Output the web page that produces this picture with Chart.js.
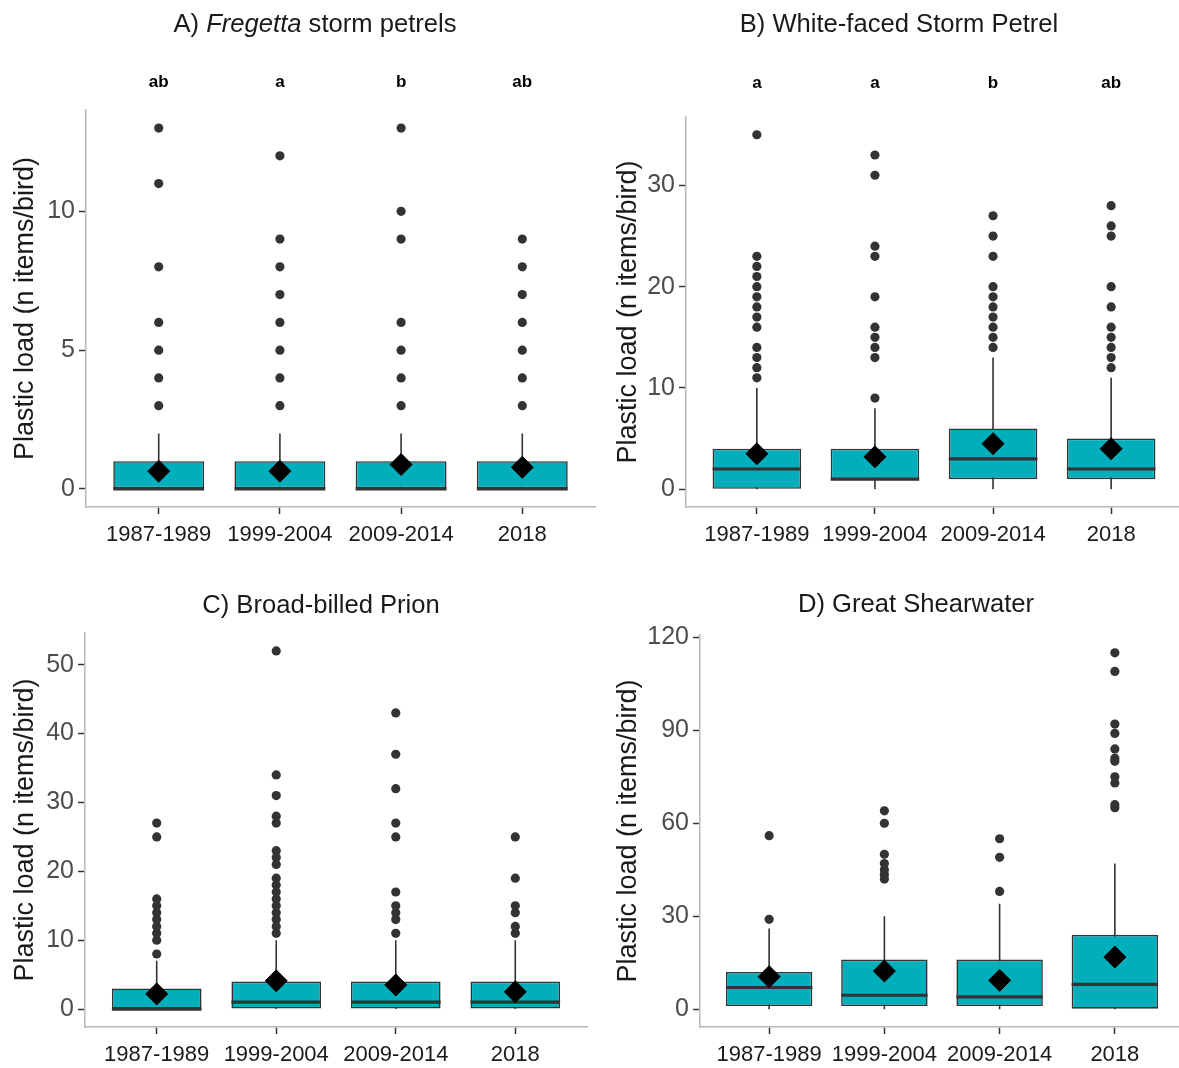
<!DOCTYPE html>
<html>
<head>
<meta charset="utf-8">
<script src="https://cdn.jsdelivr.net/npm/chart.js@4.4.1/dist/chart.umd.min.js"></script>
<style>
  body { margin: 0; background: #fff; overflow: hidden; }
  #fig { position: relative; width: 1179px; height: 1068px; overflow: hidden; }
  .panel { position: absolute; }
  .title {
    position: absolute; width: 600px; text-align: center;
    font: 25.6px "Liberation Sans", Arial, Helvetica, sans-serif;
    line-height: 30px; color: #1a1a1a; white-space: nowrap;
  }
</style>
</head>
<body>
<div id="fig">
  <div class="panel" style="left:0;top:0;width:600px;height:560px"><canvas id="chartA"></canvas></div>
  <div class="panel" style="left:600px;top:0;width:590px;height:560px"><canvas id="chartB"></canvas></div>
  <div class="panel" style="left:0;top:560px;width:600px;height:508px"><canvas id="chartC"></canvas></div>
  <div class="panel" style="left:600px;top:560px;width:590px;height:508px"><canvas id="chartD"></canvas></div>
  <div class="title" style="left:15px;top:8px">A) <i>Fregetta</i> storm petrels</div>
  <div class="title" style="left:599px;top:8px">B) White-faced Storm Petrel</div>
  <div class="title" style="left:21px;top:589px">C) Broad-billed Prion</div>
  <div class="title" style="left:616px;top:588px">D) Great Shearwater</div>
</div>
<script>
const periods = ["1987-1989", "1999-2004", "2009-2014", "2018"];

// A) Fregetta storm petrels
const fregettaLower = [0, 0, 0, 0];
const fregettaQ1 = [0, 0, 0, 0];
const fregettaMedian = [0, 0, 0, 0];
const fregettaQ3 = [1, 1, 1, 1];
const fregettaUpper = [2, 2, 2, 2];
const fregettaMean = [0.64, 0.64, 0.88, 0.78];
const fregettaOutliers = [
  [3, 4, 5, 6, 8, 11, 13],
  [3, 4, 5, 6, 7, 8, 9, 12],
  [3, 4, 5, 6, 9, 10, 13],
  [3, 4, 5, 6, 7, 8, 9]
];
const fregettaLetters = ["ab", "a", "b", "ab"];
const fregettaTicks = [0, 5, 10];

// B) White-faced Storm Petrel
const whiteFacedLower = [0, 0, 0, 0];
const whiteFacedQ1 = [0, 1, 1, 1];
const whiteFacedMedian = [2, 1, 3, 2];
const whiteFacedQ3 = [4, 4, 6, 5];
const whiteFacedUpper = [10, 8, 13, 11];
const whiteFacedMean = [3.5, 3.2, 4.5, 4.0];
const whiteFacedOutliers = [
  [11, 12, 13, 14, 16, 17, 18, 19, 20, 21, 22, 23, 35],
  [9, 13, 14, 15, 16, 19, 23, 24, 31, 33],
  [14, 15, 16, 17, 18, 19, 20, 23, 25, 27],
  [12, 13, 14, 15, 16, 18, 20, 25, 26, 28]
];
const whiteFacedLetters = ["a", "a", "b", "ab"];
const whiteFacedTicks = [0, 10, 20, 30];

// C) Broad-billed Prion
const prionLower = [0, 0, 0, 0];
const prionQ1 = [0, 0, 0, 0];
const prionMedian = [0, 1, 1, 1];
const prionQ3 = [3, 4, 4, 4];
const prionUpper = [7, 10, 10, 10];
const prionMean = [2.2, 4.1, 3.5, 2.5];
const prionOutliers = [
  [8, 10, 11, 12, 13, 14, 15, 16, 25, 27],
  [11, 12, 13, 14, 15, 16, 17, 18, 19, 21, 22, 23, 27, 28, 31, 34, 52],
  [11, 13, 14, 15, 17, 25, 27, 32, 37, 43],
  [11, 12, 14, 15, 19, 25]
];
const prionTicks = [0, 10, 20, 30, 40, 50];

// D) Great Shearwater
const shearwaterLower = [0, 0, 0, 0];
const shearwaterQ1 = [1, 1, 1, 0];
const shearwaterMedian = [7, 4.5, 4, 8];
const shearwaterQ3 = [12, 16, 16, 24];
const shearwaterUpper = [26, 30, 34, 47];
const shearwaterMean = [10.5, 12.3, 9.3, 16.8];
const shearwaterOutliers = [
  [29, 56],
  [42, 43.5, 45, 47, 50, 60, 64],
  [38, 49, 55],
  [65, 66, 73, 75, 80, 81, 84, 89, 92, 109, 115]
];
const shearwaterTicks = [0, 30, 60, 90, 120];

const FONT = '"Liberation Sans", Arial, Helvetica, sans-serif';
const BOX_FILL = "#00AFBB";
const DARK = "#333333";
const BOX_W = 0.75;

// draws the significance letters above each box
const lettersPlugin = {
  id: "sigLetters",
  afterDraw(chart, args, opts) {
    if (!opts.letters || !opts.letters.length) return;
    const { ctx, chartArea, scales } = chart;
    ctx.save();
    ctx.font = "bold 17px " + FONT;
    ctx.fillStyle = "#000";
    ctx.textAlign = "center";
    ctx.textBaseline = "middle";
    opts.letters.forEach((l, i) => {
      ctx.fillText(l, scales.x.getPixelForValue(i + 1), chartArea.top - opts.gap);
    });
    ctx.restore();
  }
};

function axisStyle() {
  return {
    grid: { display: true, drawOnChartArea: false, drawTicks: true, tickLength: 7, tickColor: DARK, tickWidth: 1.5, offset: false },
    border: { display: true, color: "#b8b8b8", width: 1.5 }
  };
}

function makePanel(id, p) {
  const xs = periods.map((_, i) => i + 1);
  let top = 0;
  p.outliers.forEach(o => o.forEach(v => { top = Math.max(top, v); }));
  p.upper.forEach(v => { top = Math.max(top, v); });
  const yMin = -0.05 * top;
  const yMax = top * 1.05;

  new Chart(document.getElementById(id), {
    type: "bar",
    data: {
      datasets: [
        {
          type: "line",
          order: 4,
          data: xs.flatMap((x, i) => [{ x, y: p.lower[i] }, { x, y: p.upper[i] }, { x, y: null }]),
          borderColor: DARK,
          borderWidth: 1.6,
          pointRadius: 0,
          spanGaps: false
        },
        {
          type: "bar",
          order: 3,
          data: xs.map((x, i) => ({ x, y: [p.q1[i], p.q3[i]] })),
          backgroundColor: BOX_FILL,
          borderColor: DARK,
          borderWidth: 1.6,
          borderSkipped: false,
          barPercentage: BOX_W,
          categoryPercentage: 1
        },
        {
          type: "line",
          order: 2,
          data: xs.flatMap((x, i) => [
            { x: x - BOX_W / 2, y: p.median[i] },
            { x: x + BOX_W / 2, y: p.median[i] },
            { x, y: null }
          ]),
          borderColor: DARK,
          borderWidth: 3.2,
          borderCapStyle: "butt",
          pointRadius: 0,
          spanGaps: false
        },
        {
          type: "scatter",
          order: 1,
          data: xs.flatMap((x, i) => p.outliers[i].map(v => ({ x, y: v }))),
          backgroundColor: DARK,
          borderWidth: 0,
          pointRadius: 4.6
        },
        {
          type: "scatter",
          order: 0,
          data: xs.map((x, i) => ({ x, y: p.mean[i] })),
          backgroundColor: "#000",
          borderColor: "#000",
          borderWidth: 1,
          pointStyle: "rectRot",
          pointRadius: 11
        }
      ]
    },
    options: {
      responsive: true,
      maintainAspectRatio: false,
      animation: false,
      events: [],
      layout: { autoPadding: false, padding: { top: p.padTop, right: p.padRight, left: 0, bottom: 0 } },
      plugins: {
        legend: { display: false },
        tooltip: { enabled: false },
        sigLetters: { letters: p.letters || [], gap: p.letterGap || 0 }
      },
      scales: {
        x: {
          type: "linear",
          min: 0.4,
          max: 4.6,
          offset: false,
          afterBuildTicks: s => { s.ticks = xs.map(v => ({ value: v })); },
          afterFit: s => { s.height = p.xHeight; },
          ...axisStyle(),
          ticks: {
            color: "#1a1a1a",
            font: { family: FONT, size: 22 },
            padding: 8,
            maxRotation: 0,
            autoSkip: false,
            callback: v => periods[v - 1]
          }
        },
        y: {
          type: "linear",
          min: yMin,
          max: yMax,
          afterBuildTicks: s => { s.ticks = p.ticks.map(v => ({ value: v })); },
          afterFit: s => { s.width = p.yWidth; },
          ...axisStyle(),
          ticks: { color: "#4d4d4d", font: { family: FONT, size: 25 }, padding: 4 },
          title: {
            display: true,
            text: "Plastic load (n items/bird)",
            color: "#1a1a1a",
            font: { family: FONT, size: 27 },
            padding: { top: p.titlePad, bottom: 0 }
          }
        }
      }
    },
    plugins: [lettersPlugin]
  });
}

makePanel("chartA", {
  lower: fregettaLower, q1: fregettaQ1, median: fregettaMedian, q3: fregettaQ3, upper: fregettaUpper,
  mean: fregettaMean, outliers: fregettaOutliers, letters: fregettaLetters, ticks: fregettaTicks,
  padTop: 110, padRight: 5, yWidth: 86, xHeight: 53, titlePad: 9, letterGap: 28
});
makePanel("chartB", {
  lower: whiteFacedLower, q1: whiteFacedQ1, median: whiteFacedMedian, q3: whiteFacedQ3, upper: whiteFacedUpper,
  mean: whiteFacedMean, outliers: whiteFacedOutliers, letters: whiteFacedLetters, ticks: whiteFacedTicks,
  padTop: 117, padRight: 8, yWidth: 86, xHeight: 53, titlePad: 12, letterGap: 34
});
makePanel("chartC", {
  lower: prionLower, q1: prionQ1, median: prionMedian, q3: prionQ3, upper: prionUpper,
  mean: prionMean, outliers: prionOutliers, ticks: prionTicks,
  padTop: 73, padRight: 13, yWidth: 85, xHeight: 41, titlePad: 9
});
makePanel("chartD", {
  lower: shearwaterLower, q1: shearwaterQ1, median: shearwaterMedian, q3: shearwaterQ3, upper: shearwaterUpper,
  mean: shearwaterMean, outliers: shearwaterOutliers, ticks: shearwaterTicks,
  padTop: 75, padRight: 6, yWidth: 100, xHeight: 41, titlePad: 12
});
</script>
</body>
</html>
